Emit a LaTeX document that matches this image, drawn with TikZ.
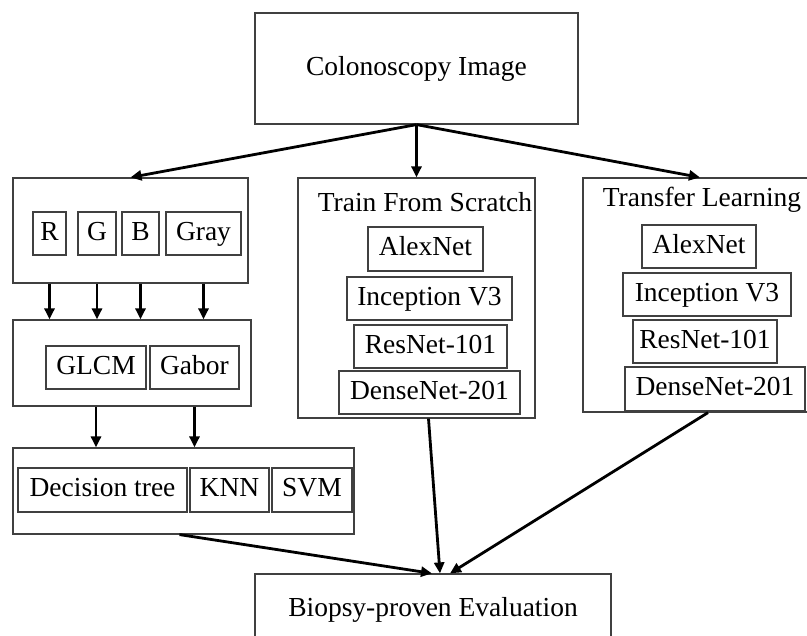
\documentclass[tikz,border=0pt]{standalone}
\usepackage{fontspec}
\setmainfont{Liberation Serif}
\usetikzlibrary{arrows.meta}

\tikzset{
  wh/.style 2 args={minimum width=#1pt, minimum height=#2pt},
  txt/.style={text height=19pt, text depth=5pt},
  frame/.style={draw=black!75, line width=1.2pt, inner sep=0pt, txt},
  cell/.style={draw=black!75, line width=1.1pt, inner sep=0pt, txt},
  arr/.style={line width=2.8pt, -{Triangle[length=11pt,width=10pt]}}
}

\begin{document}
\begin{tikzpicture}[x=1pt, y=-1pt, font=\fontsize{27.5}{33}\selectfont]
                \clip (0,0) rectangle (807,636);
                % source
                \node[frame, wh={323}{111}] (img) at (416.5,68.5) {Colonoscopy Image};
                % hand-crafted features
                \node[frame, wh={235}{105}] (rgb) at (130.5,230.5) {};
                \node[cell, wh={33}{43}] (r) at (49.5,233.5) {R};
                \node[cell, wh={38}{43}] (g) at (97,233.5) {G};
                \node[cell, wh={37}{43}] (b) at (140.5,233.5) {B};
                \node[cell, wh={75}{43}] (gray) at (203.5,233.5) {Gray};
                \node[frame, wh={238}{86}] (feat) at (132,363) {};
                \node[cell, wh={100}{43}] (glcm) at (96,367.5) {GLCM};
                \node[cell, wh={89}{43}] (gabor) at (194.5,367.5) {Gabor};
                \node[frame, wh={341}{86}] (clf) at (183.5,491) {};
                \node[cell, wh={169}{44}] (tree) at (102.5,490) {Decision tree};
                \node[cell, wh={79}{44}] (knn) at (229.5,490) {KNN};
                \node[cell, wh={80}{44}] (svm) at (312,490) {SVM};
                % CNN from scratch
                \node[frame, wh={237}{240}] (scratch) at (416.5,298) {};
                \node[txt] (scratchtitle) at (425,205) {Train From Scratch};
                \node[cell, wh={115}{44}] (salex) at (425.5,249) {AlexNet};
                \node[cell, wh={165}{43}] (sincep) at (429.5,298.5) {Inception V3};
                \node[cell, wh={153}{43}] (sres) at (430.5,346.5) {ResNet-101};
                \node[cell, wh={181}{43}] (sdense) at (429.5,392.5) {DenseNet-201};
                % CNN transfer learning
                \node[frame, wh={234}{234}] (transfer) at (700,295) {};
                \node[txt] (transfertitle) at (702,200) {Transfer Learning};
                \node[cell, wh={114}{43}] (talex) at (699,246.5) {AlexNet};
                \node[cell, wh={168}{43}] (tincep) at (707,294.5) {Inception V3};
                \node[cell, wh={144}{43}] (tres) at (705,341.5) {ResNet-101};
                \node[cell, wh={180}{44}] (tdense) at (715,389) {DenseNet-201};
                % evaluation
                \node[frame, wh={356}{70}] (eval) at (433,609) {Biopsy-proven Evaluation};

                \draw[arr] (img.south) -- (rgb.north);
                \draw[arr] (img.south) -- (scratch.north);
                \draw[arr] (img.south) -- (transfer.north);
                \foreach \c in {r,g,b,gray}
                    \draw[arr] (\c |- rgb.south) -- (\c |- feat.north);
                \foreach \c in {glcm,gabor}
                    \draw[arr] (\c |- feat.south) -- (\c |- clf.north);
                \draw[arr] ([xshift=-4pt]clf.south) -- ([xshift=-1pt]eval.north);
                \draw[arr] ([xshift=12pt]scratch.south) -- ([xshift=7pt]eval.north);
                \draw[arr] ([xshift=8pt]transfer.south) -- ([xshift=17pt]eval.north);
            \end{tikzpicture}
\end{document}
